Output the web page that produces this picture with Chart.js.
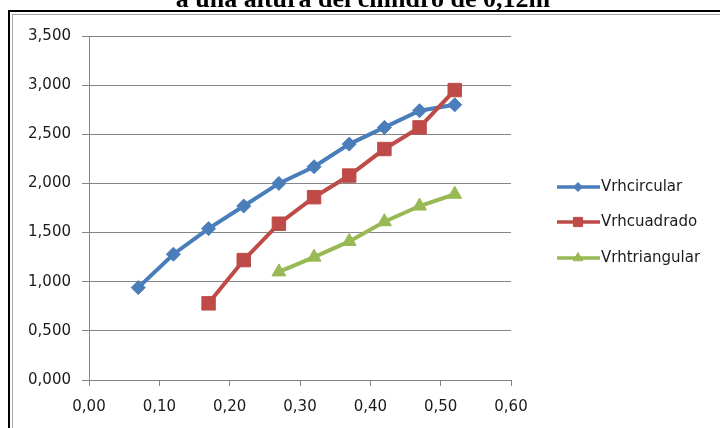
<!DOCTYPE html>
<html>
<head>
<meta charset="utf-8">
<script src="https://cdn.jsdelivr.net/npm/chart.js@4.4.1/dist/chart.umd.min.js"></script>
<style>
  html, body { margin: 0; padding: 0; background: #ffffff; overflow: hidden; }
  #wrap { position: relative; width: 720px; height: 428px; overflow: hidden; }
  canvas { display: block; }
</style>
</head>
<body>
<div id="wrap"><canvas id="c" width="720" height="428"></canvas></div>
<script>
// Chart title and series names
const titleText = 'a una altura del cilindro de 0,12m';
const seriesNames = ['Vrhcircular', 'Vrhcuadrado', 'Vrhtriangular'];

// X positions of each series
const xCircular   = [0.07, 0.12, 0.17, 0.22, 0.27, 0.32, 0.37, 0.42, 0.47, 0.52];
const xCuadrado   = [0.17, 0.22, 0.27, 0.32, 0.37, 0.42, 0.47, 0.52];
const xTriangular = [0.27, 0.32, 0.37, 0.42, 0.47, 0.52];

// Values of each series
const vCircular   = [0.94, 1.28, 1.54, 1.77, 2.00, 2.17, 2.40, 2.57, 2.74, 2.80];
const vCuadrado   = [0.78, 1.22, 1.59, 1.86, 2.08, 2.35, 2.57, 2.95];
const vTriangular = [1.10, 1.25, 1.41, 1.61, 1.77, 1.89];

// Axis ranges and tick steps
const xTicks = { min: 0, max: 0.6, step: 0.1 };
const yTicks = { min: 0, max: 3.5, step: 0.5 };

const colors = ['#4A7EBB', '#BE4B48', '#98B954'];
const styles = ['rectRot', 'rect', 'triangle'];
const radii  = [7, 9.5, 8];

const toPoints = (xs, vs) => xs.map((x, i) => ({ x: x, y: vs[i] }));
const seriesData = [
  toPoints(xCircular, vCircular),
  toPoints(xCuadrado, vCuadrado),
  toPoints(xTriangular, vTriangular)
];

const gridColor = '#868686';
const textColor = '#1a1a1a';

Chart.defaults.font.family = '"DejaVu Sans", sans-serif';
Chart.defaults.font.size = 15;
Chart.defaults.color = textColor;

// Frame around the chart object and the clipped title line above it
const framePlugin = {
  id: 'frameAndTitle',
  beforeDraw(chart) {
    const ctx = chart.ctx;
    const w = chart.width, h = chart.height;
    ctx.save();
    ctx.fillStyle = '#ffffff';
    ctx.fillRect(0, 0, w, h);
    ctx.restore();
  },
  afterDraw(chart) {
    const ctx = chart.ctx;
    const w = chart.width, h = chart.height;
    ctx.save();
    // keep the right margin clean
    ctx.fillStyle = '#ffffff';
    ctx.fillRect(w - 20, 0, 20, h);
    // outer dark edge (top and left only; the rest runs off the page)
    ctx.fillStyle = '#000000';
    ctx.fillRect(8, 10, w - 8, 2);
    ctx.fillRect(8, 10, 2, h - 10);
    // inner gray edge
    ctx.fillStyle = '#a6a6a6';
    ctx.fillRect(12, 14, w - 12, 1);
    ctx.fillRect(12, 14, 1, h - 14);
    // title, clipped by the top of the page
    ctx.fillStyle = '#000000';
    ctx.font = 'bold 26px "Liberation Serif", serif';
    ctx.textAlign = 'center';
    ctx.textBaseline = 'alphabetic';
    ctx.fillText(titleText, 363, 7);
    ctx.restore();
  }
};

// Legend at the right: short line with the series marker, then the name
const legendPlugin = {
  id: 'sideLegend',
  afterDraw(chart) {
    const ctx = chart.ctx;
    const rows = [187, 222, 258];
    ctx.save();
    seriesNames.forEach((name, i) => {
      const y = rows[i];
      ctx.strokeStyle = colors[i];
      ctx.lineWidth = 3.5;
      ctx.beginPath();
      ctx.moveTo(557, y);
      ctx.lineTo(600, y);
      ctx.stroke();
      ctx.fillStyle = colors[i];
      ctx.strokeStyle = colors[i];
      ctx.lineWidth = 1;
      Chart.helpers.drawPoint(ctx, {
        pointStyle: styles[i],
        radius: [4.5, 6.5, 5.5][i],
        rotation: 0,
        borderWidth: 1
      }, 578, y);
      ctx.fillStyle = textColor;
      ctx.font = '15px "DejaVu Sans", sans-serif';
      ctx.textAlign = 'left';
      ctx.textBaseline = 'middle';
      ctx.fillText(name, 601, y);
    });
    ctx.restore();
  }
};

new Chart(document.getElementById('c'), {
  type: 'scatter',
  data: {
    datasets: seriesNames.map((name, i) => ({
      label: name,
      data: seriesData[i],
      showLine: true,
      borderColor: colors[i],
      backgroundColor: colors[i],
      borderWidth: 4,
      tension: 0,
      pointStyle: styles[i],
      pointRadius: radii[i],
      pointHoverRadius: radii[i],
      pointBorderWidth: 1,
      pointBorderColor: colors[i],
      pointBackgroundColor: colors[i],
      order: 3 - i
    }))
  },
  options: {
    responsive: false,
    animation: false,
    devicePixelRatio: 1,
    layout: { padding: { left: 0, top: 36, right: 209, bottom: 0 } },
    plugins: {
      legend: { display: false },
      tooltip: { enabled: false },
      title: { display: false }
    },
    scales: {
      x: {
        type: 'linear',
        min: xTicks.min,
        max: xTicks.max,
        afterFit(scale) { scale.height = 48; },
        ticks: {
          stepSize: xTicks.step,
          padding: 12,
          color: textColor,
          callback: (v) => Number(v).toFixed(2).replace('.', ',')
        },
        grid: { drawOnChartArea: false, drawTicks: true, tickLength: 6, color: gridColor },
        border: { color: gridColor, width: 1 }
      },
      y: {
        type: 'linear',
        min: yTicks.min,
        max: yTicks.max,
        afterFit(scale) { scale.width = 89; },
        ticks: {
          stepSize: yTicks.step,
          padding: 11,
          color: textColor,
          callback: (v) => Number(v).toFixed(3).replace('.', ',')
        },
        grid: { color: gridColor, tickLength: 7 },
        border: { color: gridColor, width: 1 }
      }
    }
  },
  plugins: [legendPlugin, framePlugin]
});
</script>
</body>
</html>
